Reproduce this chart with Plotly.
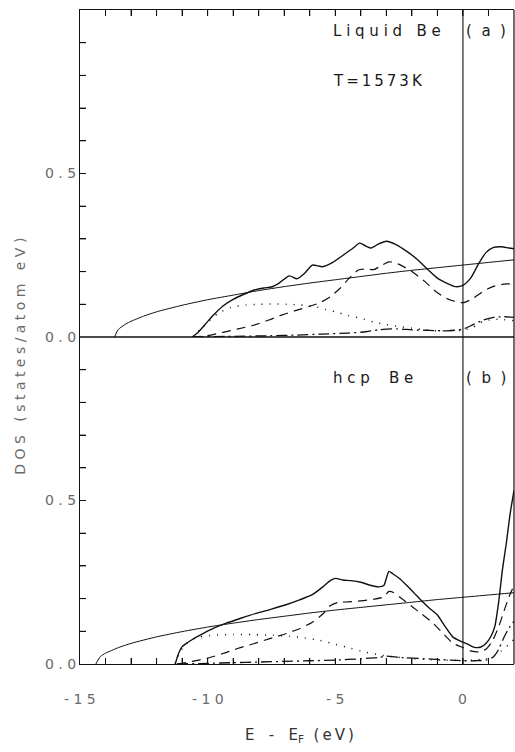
import plotly.graph_objects as go

# ---------------- Liquid Be, T = 1573 K (upper panel) ----------------
# free-electron reference DOS
liq_free_e = [-13.65, -13.5, -13.2, -13.0, -12.5, -12.0, -11.0, -10.0, -9.0, -8.0,
              -7.0, -6.0, -5.0, -4.0, -3.0, -2.0, -1.0, 0.0, 1.0, 2.0]
liq_free_dos = [0.0, 0.023, 0.040, 0.048, 0.064, 0.077, 0.097, 0.114, 0.128, 0.142,
                0.154, 0.165, 0.175, 0.185, 0.195, 0.204, 0.212, 0.220, 0.228, 0.236]

# total DOS
liq_tot_e = [-10.6, -10.4, -10.1, -9.8, -9.4, -9.0, -8.6, -8.2, -7.8, -7.5, -7.2, -6.8,
             -6.5, -6.2, -5.9, -5.5, -5.1, -4.7, -4.3, -4.05, -3.8, -3.6, -3.3, -3.0,
             -2.6, -2.2, -1.8, -1.4, -1.0, -0.6, -0.3, 0.0, 0.3, 0.6, 0.9, 1.2, 1.5,
             1.8, 2.0]
liq_tot_dos = [0.0, 0.012, 0.038, 0.065, 0.095, 0.115, 0.130, 0.143, 0.150, 0.153,
               0.165, 0.187, 0.178, 0.195, 0.220, 0.215, 0.228, 0.250, 0.272, 0.287,
               0.278, 0.272, 0.285, 0.293, 0.282, 0.262, 0.238, 0.208, 0.180, 0.163,
               0.154, 0.158, 0.180, 0.222, 0.258, 0.274, 0.276, 0.272, 0.270]

# p-projected DOS
liq_p_e = [-10.6, -10.0, -9.4, -8.8, -8.2, -7.6, -7.1, -6.6, -6.0, -5.6, -5.2, -4.8,
           -4.45, -4.1, -3.8, -3.5, -3.2, -2.9, -2.5, -2.0, -1.5, -1.0, -0.5, 0.0,
           0.4, 0.8, 1.2, 1.6, 2.0]
liq_p_dos = [0.0, 0.004, 0.014, 0.025, 0.036, 0.052, 0.067, 0.080, 0.094, 0.105,
             0.123, 0.150, 0.180, 0.205, 0.208, 0.206, 0.218, 0.230, 0.222, 0.200,
             0.170, 0.135, 0.113, 0.105, 0.118, 0.140, 0.155, 0.162, 0.162]

# s-projected DOS
liq_s_e = [-10.6, -10.3, -10.0, -9.6, -9.1, -8.5, -8.0, -7.4, -6.9, -6.4, -5.9, -5.4,
           -5.0, -4.5, -4.0, -3.5, -3.0, -2.5, -2.0, -1.5, -1.0, -0.5, 0.0, 0.4, 0.8,
           1.2, 1.6, 2.0]
liq_s_dos = [0.0, 0.022, 0.045, 0.072, 0.090, 0.098, 0.100, 0.101, 0.100, 0.098,
             0.095, 0.085, 0.077, 0.066, 0.057, 0.046, 0.038, 0.032, 0.027, 0.022,
             0.019, 0.019, 0.021, 0.030, 0.048, 0.054, 0.053, 0.050]

# d-projected DOS
liq_d_e = [-10.6, -9.0, -7.5, -6.5, -5.5, -4.5, -3.8, -3.3, -2.6, -2.0, -1.3, -0.6,
           0.0, 0.4, 0.8, 1.2, 1.6, 2.0]
liq_d_dos = [0.0, 0.002, 0.004, 0.006, 0.009, 0.012, 0.016, 0.022, 0.025, 0.022,
             0.020, 0.019, 0.024, 0.038, 0.052, 0.060, 0.062, 0.060]

# ---------------- hcp Be (lower panel) ----------------
hcp_free_e = [-14.38, -14.2, -14.0, -13.5, -13.0, -12.0, -11.0, -10.0, -9.0, -8.0,
              -7.0, -6.0, -5.0, -4.0, -3.0, -2.0, -1.0, 0.0, 1.0, 2.0]
hcp_free_dos = [0.0, 0.023, 0.033, 0.050, 0.063, 0.083, 0.099, 0.113, 0.125, 0.136,
                0.146, 0.156, 0.165, 0.173, 0.181, 0.189, 0.197, 0.204, 0.211, 0.218]

hcp_tot_e = [-11.27, -11.15, -11.0, -10.8, -10.6, -10.2, -9.8, -9.3, -8.7, -8.1, -7.5,
             -6.9, -6.4, -5.9, -5.5, -5.2, -5.0, -4.7, -4.4, -4.0, -3.6, -3.3, -3.1,
             -3.0, -2.9, -2.75, -2.5, -2.2, -1.9, -1.6, -1.3, -1.0, -0.7, -0.4, -0.1,
             0.2, 0.45, 0.7, 0.9, 1.1, 1.25, 1.4, 1.55, 1.7, 1.85, 2.0]
hcp_tot_dos = [0.0, 0.030, 0.053, 0.065, 0.075, 0.092, 0.108, 0.124, 0.140, 0.155,
               0.168, 0.182, 0.196, 0.212, 0.235, 0.255, 0.262, 0.257, 0.255, 0.250,
               0.240, 0.236, 0.240, 0.262, 0.283, 0.276, 0.262, 0.240, 0.216, 0.192,
               0.170, 0.150, 0.115, 0.083, 0.070, 0.060, 0.051, 0.052, 0.063, 0.085,
               0.115, 0.190, 0.290, 0.370, 0.460, 0.530]

hcp_p_e = [-11.2, -10.6, -10.0, -9.4, -8.8, -8.2, -7.6, -7.0, -6.4, -5.9, -5.5, -5.2,
           -4.9, -4.5, -4.0, -3.5, -3.1, -2.9, -2.7, -2.4, -2.0, -1.6, -1.2, -0.8,
           -0.4, 0.0, 0.3, 0.6, 0.9, 1.15, 1.4, 1.6, 1.8, 2.0]
hcp_p_dos = [0.0, 0.008, 0.018, 0.032, 0.048, 0.062, 0.077, 0.091, 0.108, 0.128,
             0.152, 0.178, 0.188, 0.190, 0.193, 0.198, 0.205, 0.222, 0.218, 0.200,
             0.176, 0.152, 0.127, 0.095, 0.064, 0.050, 0.040, 0.037, 0.045, 0.070,
             0.114, 0.160, 0.205, 0.240]

hcp_s_e = [-11.27, -11.1, -10.9, -10.6, -10.3, -9.8, -9.0, -8.2, -7.4, -6.8, -6.2,
           -5.6, -5.0, -4.4, -3.8, -3.2, -2.6, -2.0, -1.4, -0.8, -0.2, 0.4, 0.9, 1.2,
           1.5, 1.8, 2.0]
hcp_s_dos = [0.0, 0.035, 0.057, 0.075, 0.083, 0.088, 0.090, 0.090, 0.088, 0.085,
             0.080, 0.072, 0.060, 0.048, 0.036, 0.027, 0.021, 0.017, 0.014, 0.012,
             0.011, 0.012, 0.016, 0.025, 0.040, 0.060, 0.075]

hcp_d_e = [-11.2, -10.0, -9.0, -8.0, -7.0, -6.0, -5.0, -4.0, -3.3, -3.0, -2.5, -2.0,
           -1.5, -1.0, -0.5, 0.0, 0.5, 0.9, 1.2, 1.4, 1.6, 1.8, 2.0]
hcp_d_dos = [0.0, 0.002, 0.004, 0.006, 0.008, 0.010, 0.012, 0.016, 0.020, 0.024,
             0.020, 0.018, 0.016, 0.014, 0.012, 0.010, 0.010, 0.012, 0.022, 0.045,
             0.080, 0.110, 0.130]

# ---------------- axis ticks ----------------
x_ticks = list(range(-15, 3))
x_label_vals = [-15, -10, -5, 0]
x_label_text = ["-\u00a01\u00a05", "-\u00a01\u00a00", "-\u00a05", "0"]
y_ticks = [0.0, 0.1, 0.2, 0.3, 0.4, 0.5, 0.6, 0.7, 0.8, 0.9]
y_labels = {0.0: "0\u00a0.\u00a00", 0.5: "0\u00a0.\u00a05"}

INK = "#111111"
GREY = "#6a6a6a"
FONT = "DejaVu Sans"
TICK_LEN = 6

styles = {
    "free": dict(color=INK, width=1.0, dash="solid"),
    "tot": dict(color=INK, width=1.4, dash="solid"),
    "p": dict(color=INK, width=1.2, dash="9px,6px"),
    "s": dict(color=INK, width=1.5, dash="1px,7px"),
    "d": dict(color=INK, width=1.3, dash="11px,4px,2px,4px"),
}

fig = go.Figure()


def add_curve(xs, ys, key, xa, ya):
    fig.add_trace(go.Scatter(x=xs, y=ys, mode="lines", xaxis=xa, yaxis=ya,
                             line=dict(shape="spline", smoothing=0.6, **styles[key]),
                             hoverinfo="skip"))


for xs, ys, key in [(liq_free_e, liq_free_dos, "free"), (liq_tot_e, liq_tot_dos, "tot"),
                    (liq_p_e, liq_p_dos, "p"), (liq_s_e, liq_s_dos, "s"),
                    (liq_d_e, liq_d_dos, "d")]:
    add_curve(xs, ys, key, "x2", "y2")

for xs, ys, key in [(hcp_free_e, hcp_free_dos, "free"), (hcp_tot_e, hcp_tot_dos, "tot"),
                    (hcp_p_e, hcp_p_dos, "p"), (hcp_s_e, hcp_s_dos, "s"),
                    (hcp_d_e, hcp_d_dos, "d")]:
    add_curve(xs, ys, key, "x", "y")

tickfont = dict(family=FONT, size=14, color=GREY)
common_x = dict(range=[-15, 2], tickmode="array", tickvals=x_ticks,
                ticks="inside", ticklen=TICK_LEN, tickwidth=1, tickcolor=INK,
                showline=True, linecolor=INK, linewidth=1.2,
                showgrid=False, zeroline=False, showticklabels=False)
common_y = dict(range=[0, 1.0], tickmode="array", tickvals=y_ticks,
                ticktext=[y_labels.get(v, "") for v in y_ticks],
                ticks="inside", ticklen=TICK_LEN, tickwidth=1, tickcolor=INK,
                showline=True, linecolor=INK, linewidth=1.2,
                showgrid=False, zeroline=False, tickfont=tickfont)

fig.update_layout(
    template="simple_white",
    width=515, height=752,
    margin=dict(l=80, r=1, t=10, b=88),
    showlegend=False,
    xaxis=dict(common_x, domain=[0, 1], anchor="y", side="bottom"),
    xaxis2=dict(common_x, domain=[0, 1], anchor="y2", side="top"),
    yaxis=dict(common_y, domain=[0, 0.5], anchor="x"),
    yaxis2=dict(common_y, domain=[0.5, 1.0], anchor="x2"),
)

# energy labels below the lower panel, set well clear of the frame
for v, t in zip(x_label_vals, x_label_text):
    fig.add_annotation(x=v, y=0, xref="x", yref="paper", yanchor="top", yshift=-25,
                       text=t, showarrow=False, font=tickfont)

frame_line = dict(color=INK, width=1.2)
tick_line = dict(color=INK, width=1)

# frame, the upper panel's zero line and the Fermi-level marker
fig.add_shape(type="line", xref="paper", yref="paper", x0=1, x1=1, y0=0, y1=1,
              line=frame_line, opacity=1)
fig.add_shape(type="line", xref="paper", yref="paper", x0=0, x1=1, y0=0.5, y1=0.5,
              line=dict(color=INK, width=1.5), opacity=1)
fig.add_shape(type="line", xref="x", yref="paper", x0=0, x1=0, y0=0, y1=1,
              line=dict(color=INK, width=1.1), opacity=1)

# inward tick marks along the bottom and top frame and the left edge of each panel
for v in x_ticks[1:-1]:
    fig.add_shape(type="line", xref="x", yref="paper", ysizemode="pixel", yanchor=0,
                  x0=v, x1=v, y0=0, y1=TICK_LEN, line=tick_line, opacity=1)
    fig.add_shape(type="line", xref="x", yref="paper", ysizemode="pixel", yanchor=1,
                  x0=v, x1=v, y0=0, y1=-TICK_LEN, line=tick_line, opacity=1)
for ya in ("y", "y2"):
    for v in y_ticks[1:]:
        fig.add_shape(type="line", xref="paper", yref=ya, xsizemode="pixel", xanchor=0,
                      x0=0, x1=TICK_LEN, y0=v, y1=v, line=tick_line, opacity=1)

label_font = dict(family=FONT, size=15, color="#1a1a1a")
NB = "\u00a0"
TH = "\u2009"


def spaced(word, sep=NB):
    return sep.join(word)


fig.add_annotation(x=-5.15, y=0.936, xref="x2", yref="y2", xanchor="left",
                   text=spaced("Liquid") + NB * 3 + spaced("Be"),
                   showarrow=False, font=label_font)
fig.add_annotation(x=-5.15, y=0.783, xref="x2", yref="y2", xanchor="left",
                   text=spaced("T=1573K", TH), showarrow=False, font=label_font)
fig.add_annotation(x=0.92, y=0.936, xref="x2", yref="y2", xanchor="center",
                   text="(" + NB * 2 + "a" + NB * 2 + ")", showarrow=False, font=label_font)
fig.add_annotation(x=-5.15, y=0.875, xref="x", yref="y", xanchor="left",
                   text=spaced("hcp") + NB * 4 + spaced("Be"),
                   showarrow=False, font=label_font)
fig.add_annotation(x=0.92, y=0.875, xref="x", yref="y", xanchor="center",
                   text="(" + NB * 2 + "b" + NB * 2 + ")", showarrow=False, font=label_font)

# axis titles
fig.add_annotation(x=-0.162, y=0.471, xref="paper", yref="paper",
                   text=spaced("DOS") + NB * 3 + spaced("(states/atom") + NB * 3 + spaced("eV)"),
                   textangle=-90, showarrow=False,
                   font=dict(family=FONT, size=14, color=GREY))
fig.add_annotation(x=0.505, y=-0.11, xref="paper", yref="paper", yanchor="middle",
                   text="E" + NB * 3 + "-" + NB * 3 + "E<sub>F</sub>" + NB * 2 + "(" + TH + "e" + TH + "V" + TH + ")",
                   showarrow=False, font=dict(family=FONT, size=15, color="#333333"))

fig.write_html("out.html")
